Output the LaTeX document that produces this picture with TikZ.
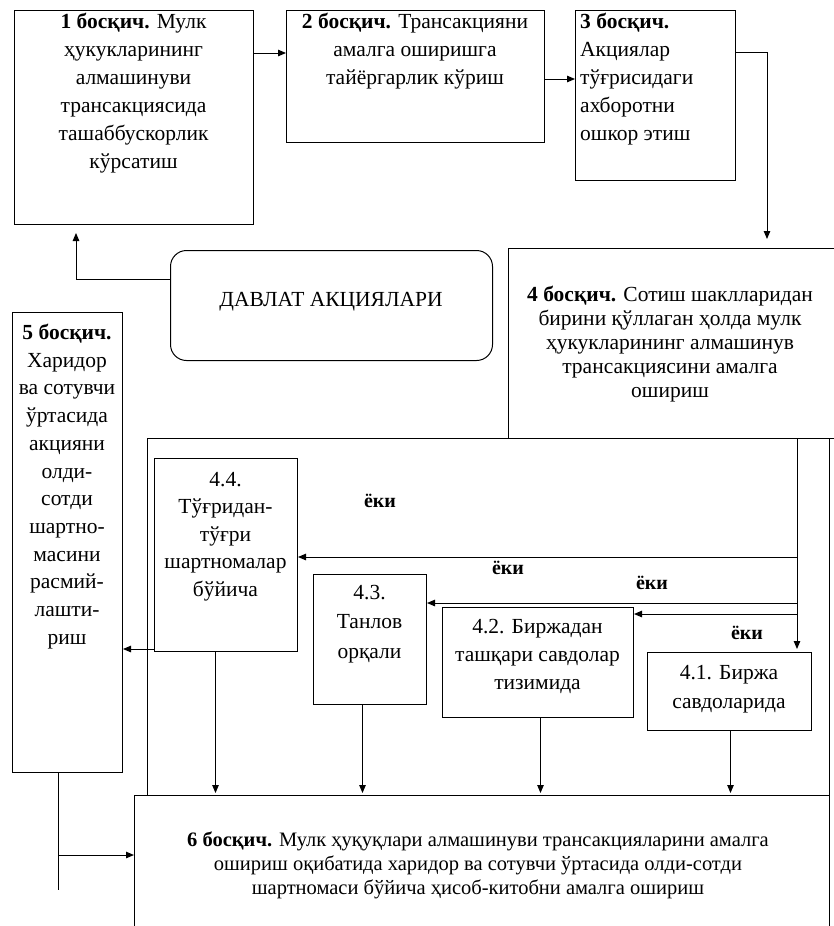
\documentclass[tikz,border=0pt]{standalone}
\usepackage{fontspec}
\setmainfont{Liberation Serif}
\usetikzlibrary{arrows.meta}
\begin{document}
\begin{tikzpicture}[x=1pt,y=-1pt,
  box/.style={draw, line width=1pt, inner sep=0pt, anchor=north west},
  txt/.style={inner sep=0pt, align=center, font=\fontsize{21.5}{28}\selectfont},
  arr/.style={draw, line width=1pt, -{Triangle[length=8pt,width=6.5pt]}},
  ln/.style={draw, line width=1pt},
  eki/.style={inner sep=0pt, font=\bfseries\fontsize{20}{22}\selectfont}
]
\useasboundingbox (0,0) rectangle (834,926);
\newcommand\mybox[6][]{\node[box,#1, minimum width=#5pt, minimum height=#6pt] (#2) at (#3,#4) {};}
% boxes
\mybox{cont}{147}{438}{682}{357}
\mybox{b1}{14}{10}{239}{214}
\mybox{b2}{286}{10}{258}{132}
\mybox{b3}{575}{10}{160}{170}
\mybox{b4}{508}{248}{332}{190}
\mybox[rounded corners=16pt]{dav}{170}{250}{322}{110}
\mybox{b5}{12}{312}{110}{460}
\mybox{b44}{154}{458}{143}{193}
\mybox{b43}{313}{574}{113}{130}
\mybox{b42}{442}{607}{191}{110}
\mybox{b41}{647}{652}{164}{78}
\mybox{b6}{134}{795}{695}{150}
% texts
\node[txt, anchor=north] (t1) at (133.5,13) {\textbf{1 босқич.} Мулк\\ҳукукларининг\\алмашинуви\\трансакциясида\\ташаббускорлик\\кўрсатиш};
\node[txt, anchor=north] (t2) at (415,13) {\textbf{2 босқич.} Трансакцияни\\амалга оширишга\\тайёргарлик кўриш};
\node[txt, anchor=north west, align=left] (t3) at (580,13) {\textbf{3 босқич.}\\Акциялар\\тўғрисидаги\\ахборотни\\ошкор этиш};
\node[txt, anchor=north, font=\fontsize{21.5}{24}\selectfont] (t4) at (670,286) {\textbf{4 босқич.} Сотиш шаклларидан\\бирини қўллаган ҳолда мулк\\ҳукукларининг алмашинув\\трансакциясини амалга\\ошириш};
\node[txt] (tdav) at (331,302) {ДАВЛАТ АКЦИЯЛАРИ};
\node[txt, anchor=north, font=\fontsize{21.5}{27.7}\selectfont] (t5) at (67,324) {\textbf{5 босқич.}\\Харидор\\ва сотувчи\\ўртасида\\акцияни\\олди-\\сотди\\шартно-\\масини\\расмий-\\лашти-\\риш};
\node[txt, anchor=north, font=\fontsize{21.5}{27.5}\selectfont] (t44) at (225.5,472) {4.4.\\Тўғридан-\\тўғри\\шартномалар\\бўйича};
\node[txt, anchor=north, font=\fontsize{21.5}{29.5}\selectfont] (t43) at (369.5,585) {4.3.\\Танлов\\орқали};
\node[txt, anchor=north] (t42) at (537.5,619) {4.2. Биржадан\\ташқари савдолар\\тизимида};
\node[txt, anchor=north, font=\fontsize{21.5}{29}\selectfont] (t41) at (729,665) {4.1. Биржа\\савдоларида};
\node[txt, anchor=north, font=\fontsize{20.5}{24}\selectfont] (t6) at (478,832) {\textbf{6 босқич.} Мулк ҳуқуқлари алмашинуви трансакцияларини амалга\\ошириш оқибатида харидор ва сотувчи ўртасида олди-сотди\\шартномаси бўйича ҳисоб-китобни амалга ошириш};
\node[eki] (e1) at (380,501) {ёки};
\node[eki] (e2) at (508,568) {ёки};
\node[eki] (e3) at (652,583) {ёки};
\node[eki] (e4) at (747,633) {ёки};
% connectors top
\coordinate (a1) at ([yshift=-43pt]b1.north east);
\draw[arr] (a1) -- (a1 -| b2.west);
\coordinate (a2) at ([yshift=-69pt]b2.north east);
\draw[arr] (a2) -- (a2 -| b3.west);
\coordinate (a3) at ([yshift=-42pt]b3.north east);
\coordinate (k4) at (767,248);
\draw[arr, shorten >=9pt] (a3) -| (k4);
\coordinate (ad) at ([yshift=26pt]dav.west);
\coordinate (k1) at (76,224);
\draw[arr, shorten >=9pt] (ad) -| (k1);
% trunk from stage 4
\coordinate (tr0) at (797,438);
\coordinate (br4) at (797,557);
\coordinate (br3) at (797,603);
\coordinate (br2) at (797,614);
\draw[arr, shorten >=3pt] (tr0) -- (tr0 |- b41.north);
\draw[arr] (br4) -- (br4 -| b44.east);
\draw[arr] (br3) -- (br3 -| b43.east);
\draw[arr] (br2) -- (br2 -| b42.east);
% to stage 5
\coordinate (a44) at ([yshift=3pt]b44.south west);
\draw[arr] (a44) -- (a44 -| b5.east);
% down to stage 6
\draw[arr, shorten >=2pt] ([xshift=-10.5pt]b44.south) -- ([xshift=-10.5pt]b44.south |- b6.north);
\draw[arr, shorten >=2pt] ([xshift=-7.5pt]b43.south) -- ([xshift=-7.5pt]b43.south |- b6.north);
\draw[arr, shorten >=2pt] ([xshift=2.5pt]b42.south) -- ([xshift=2.5pt]b42.south |- b6.north);
\draw[arr, shorten >=2pt] ([xshift=1pt]b41.south) -- ([xshift=1pt]b41.south |- b6.north);
% stage 5 to stage 6
\coordinate (c5a) at (58,855);
\coordinate (c5b) at (58,890);
\draw[ln] (b5.south -| c5a) -- (c5b);
\draw[arr] (c5a) -- (c5a -| b6.west);
\end{tikzpicture}
\end{document}
